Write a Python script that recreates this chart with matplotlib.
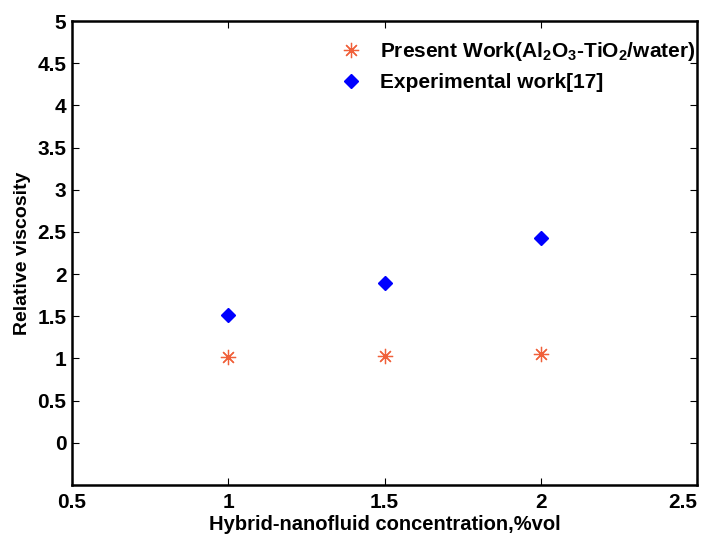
import matplotlib
matplotlib.use('Agg')
from matplotlib import pyplot as plt

# data
conc = [1.0, 1.5, 2.0]
present_work = [1.02, 1.03, 1.05]
experimental = [1.52, 1.89, 2.43]

xticks = [0.5, 1, 1.5, 2, 2.5]
yticks = [0, 0.5, 1, 1.5, 2, 2.5, 3, 3.5, 4, 4.5, 5]

plt.rcParams['font.family'] = ['Liberation Sans', 'DejaVu Sans']
plt.rcParams['font.weight'] = 'bold'
plt.rcParams['mathtext.fontset'] = 'custom'
plt.rcParams['mathtext.bf'] = 'Liberation Sans:bold'
plt.rcParams['mathtext.rm'] = 'Liberation Sans:bold'
plt.rcParams['mathtext.default'] = 'bf'

fig = plt.figure(figsize=(7.08, 5.36), dpi=100)
ax = fig.add_axes([0.1017, 0.0951, 0.8828, 0.8657])

ax.plot(conc, present_work, linestyle='none', marker=(8, 2, 0), markersize=11,
        markeredgewidth=0.9, color='#f0603a', label=r'Present Work(Al$_2$O$_3$-TiO$_2$/water)')
ax.plot(conc, experimental, linestyle='none', marker='D', markersize=7,
        color='#0000ff', label='Experimental work[17]')

ax.set_xlim(0.5, 2.5)
ax.set_ylim(-0.5, 5)
ax.set_xticks(xticks)
ax.set_xticklabels(['0.5', '1', '1.5', '2', '2.5'])
ax.set_yticks(yticks)
ax.set_yticklabels(['0', '0.5', '1', '1.5', '2', '2.5', '3', '3.5', '4', '4.5', '5'])

ax.tick_params(direction='in', length=5, width=0.8, top=True, right=True,
               labelsize=15)
ax.tick_params(axis='y', pad=4)
ax.tick_params(axis='x', pad=6)
# last x label sits inside the figure, like the original
ax.get_xticklabels()[-1].set_horizontalalignment('right')
ax.get_xticklabels()[-1].set_x(2.5)
for sp in ax.spines.values():
    sp.set_linewidth(1.8)

ax.set_xlabel('Hybrid-nanofluid concentration,%vol', fontsize=14.5, fontweight='bold')
ax.set_ylabel('Relative viscosity', fontsize=14, fontweight='bold')
ax.xaxis.set_label_coords(0.5, -0.064)
ax.yaxis.set_label_coords(-0.066, 0.5)

leg = ax.legend(loc='upper right', frameon=False, fontsize=15, handletextpad=0.4,
                borderaxespad=0.2, labelspacing=0.45, bbox_to_anchor=(1.018, 0.985))

fig.savefig('out.png', dpi=100)
